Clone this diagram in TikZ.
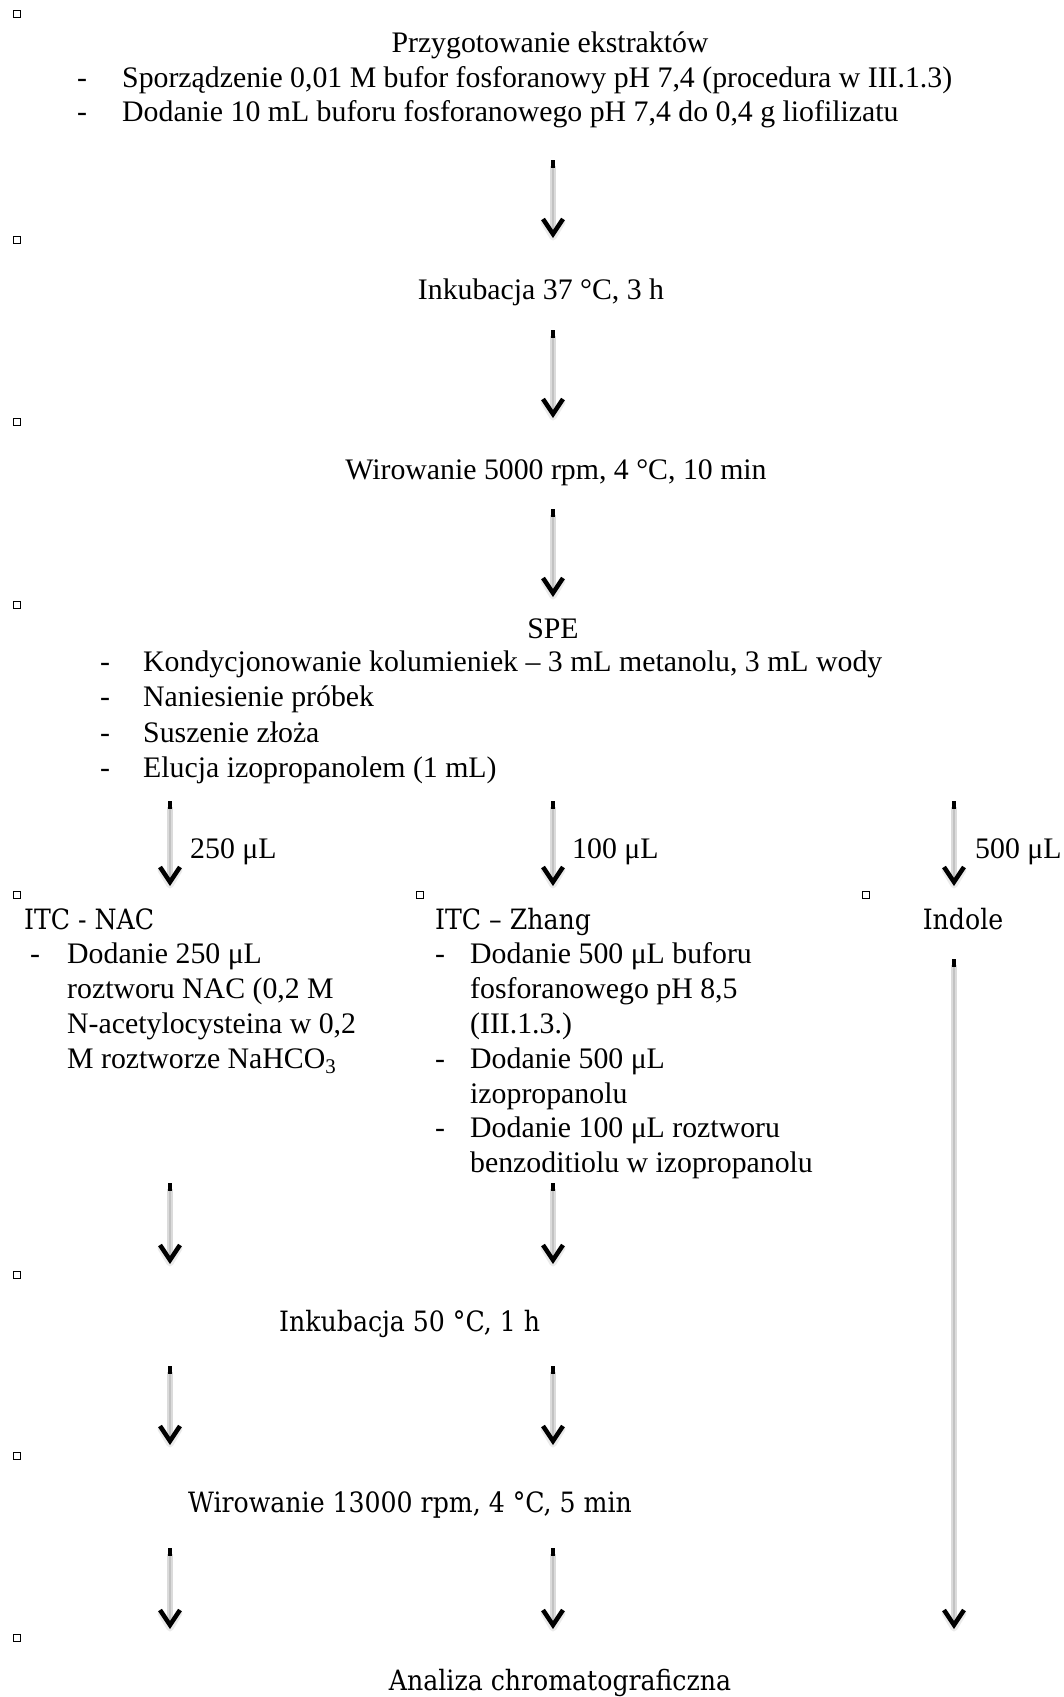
\documentclass[tikz,border=0pt]{standalone}
\usepackage{fontspec}
\setmainfont{Liberation Serif}
\newfontfamily\cambria{DejaVu Serif Condensed}
\usetikzlibrary{calc}

\tikzset{
  txt/.style={inner sep=0pt, anchor=base west, font=\fontsize{29.8}{35}\selectfont},
  ctxt/.style={txt, anchor=base},
  cam/.style={inner sep=0pt, anchor=base west, font=\cambria\fontsize{28}{34}\selectfont},
  ccam/.style={cam, anchor=base},
  shaft/.style={line width=5.5pt, draw=black!14},
  shaftcore/.style={line width=2pt, draw=black!24},
  tick/.style={line width=3.5pt, draw=black},
  chevron/.style={line width=4.5pt, draw=black, line join=miter},
  chevshadow/.style={line width=7pt, draw=black!8, line join=round, line cap=round},
  marker/.style={line width=1.5pt, draw=black}
}

% arrow: black tick on top, grey shaft, black V at the tip
\newcommand{\flow}[2]{%
  \draw[shaft] ($(#1)+(0,6)$) -- ($(#2)+(0,-8)$);
  \draw[shaftcore] ($(#1)+(0,6)$) -- ($(#2)+(0,-8)$);
  \draw[tick] (#1) -- ($(#1)+(0,8)$);
  \draw[chevshadow] ($(#2)+(-9,-16)$) -- ($(#2)+(0,-1)$) -- ($(#2)+(9,-16)$);
  \draw[chevron] ($(#2)+(-10,-19)$) -- ($(#2)+(0,-4)$) -- ($(#2)+(10,-19)$);
}

\begin{document}
\begin{tikzpicture}[x=1pt, y=-1pt]
\useasboundingbox (0,0) rectangle (1063,1697);

% small squares on the left
\foreach \my in {14,240,422,605,895,1275,1456,1638}
  \draw[marker] (13.5,\my-3.5) rectangle (20.5,\my+3.5);
\draw[marker] (416.5,891.5) rectangle (423.5,898.5);
\draw[marker] (862.5,891.5) rectangle (869.5,898.5);

\def\ls{34.8}
\def\lsB{35.6}
\def\dA{77}
\def\tA{122}
\def\dB{100}
\def\tB{143}

% extraction
\node[ctxt] (prep) at (550,52) {Przygotowanie ekstraktów};
\node[txt] (prepd1) at (\dA,87) {-};
\node[txt] (prep1) at (\tA,87) {Sporządzenie 0,01 M bufor fosforanowy pH 7,4 (procedura w III.1.3)};
\node[txt] (prepd2) at (\dA,87+\ls) {-};
\node[txt] (prep2) at (\tA,87+\ls) {Dodanie 10 mL buforu fosforanowego pH 7,4 do 0,4 g liofilizatu};

\node[ctxt] (inc1) at (541,299) {Inkubacja 37 °C, 3 h};
\node[ctxt] (wir1) at (556,479) {Wirowanie 5000 rpm, 4 °C, 10 min};

% SPE
\node[ctxt] (spe) at (553,638) {SPE};
\node[txt] (sped1) at (\dB,671) {-};
\node[txt] (spe1) at (\tB,671) {Kondycjonowanie kolumieniek – 3 mL metanolu, 3 mL wody};
\node[txt] (sped2) at (\dB,671+\lsB) {-};
\node[txt] (spe2) at (\tB,671+\lsB) {Naniesienie próbek};
\node[txt] (sped3) at (\dB,671+2*\lsB) {-};
\node[txt] (spe3) at (\tB,671+2*\lsB) {Suszenie złoża};
\node[txt] (sped4) at (\dB,671+3*\lsB) {-};
\node[txt] (spe4) at (\tB,671+3*\lsB) {Elucja izopropanolem (1 mL)};

% three branches
\node[txt] (volA) at (190,858) {250 μL};
\node[txt] (volB) at (572,858) {100 μL};
\node[txt] (volC) at (975,858) {500 μL};

\node[cam] (nac) at (24,929) {ITC - NAC};
\node[txt] (nacd) at (30,929+\ls) {-};
\node[txt] (nac1) at (67,929+\ls) {Dodanie 250 μL};
\node[txt] (nac2) at (67,929+2*\ls) {roztworu NAC (0,2 M};
\node[txt] (nac3) at (67,929+3*\ls) {N-acetylocysteina w 0,2};
\node[txt] (nac4) at (67,929+4*\ls) {M roztworze NaHCO\textsubscript{3}};

\node[cam] (zhang) at (435,929) {ITC – Zhang};
\node[txt] (zhd1) at (435,929+\ls) {-};
\node[txt] (zh1) at (470,929+\ls) {Dodanie 500 μL buforu};
\node[txt] (zh2) at (470,929+2*\ls) {fosforanowego pH 8,5};
\node[txt] (zh3) at (470,929+3*\ls) {(III.1.3.)};
\node[txt] (zhd2) at (435,929+4*\ls) {-};
\node[txt] (zh4) at (470,929+4*\ls) {Dodanie 500 μL};
\node[txt] (zh5) at (470,929+5*\ls) {izopropanolu};
\node[txt] (zhd3) at (435,929+6*\ls) {-};
\node[txt] (zh6) at (470,929+6*\ls) {Dodanie 100 μL roztworu};
\node[txt] (zh7) at (470,929+7*\ls) {benzoditiolu w izopropanolu};

\node[ccam] (indole) at (963,929) {Indole};

\node[cam] (inc2) at (279,1331) {Inkubacja 50 °C, 1 h};
\node[cam] (wir2) at (188,1512) {Wirowanie 13000 rpm, 4 °C, 5 min};
\node[ccam] (anal) at (560,1690) {Analiza chromatograficzna};

% arrow ends
\coordinate (a1t) at (553,160);  \coordinate (a1b) at (553,238);
\coordinate (a2t) at (553,330);  \coordinate (a2b) at (553,418);
\coordinate (a3t) at (553,509);  \coordinate (a3b) at (553,597);
\coordinate (bAt) at (170,801);  \coordinate (bAb) at (170,886);
\coordinate (bBt) at (553,801);  \coordinate (bBb) at (553,886);
\coordinate (bCt) at (954,801);  \coordinate (bCb) at (954,886);
\coordinate (cAt) at (170,1183); \coordinate (cAb) at (170,1264);
\coordinate (cBt) at (553,1183); \coordinate (cBb) at (553,1264);
\coordinate (dAt) at (170,1366); \coordinate (dAb) at (170,1445);
\coordinate (dBt) at (553,1366); \coordinate (dBb) at (553,1445);
\coordinate (eAt) at (170,1548); \coordinate (eAb) at (170,1629);
\coordinate (eBt) at (553,1548); \coordinate (eBb) at (553,1629);
\coordinate (iCt) at (954,959);  \coordinate (iCb) at (954,1629);

\foreach \s in {a1,a2,a3,bA,bB,bC,cA,cB,dA,dB,eA,eB,iC}{
  \flow{\s t}{\s b}
}
\end{tikzpicture}
\end{document}
